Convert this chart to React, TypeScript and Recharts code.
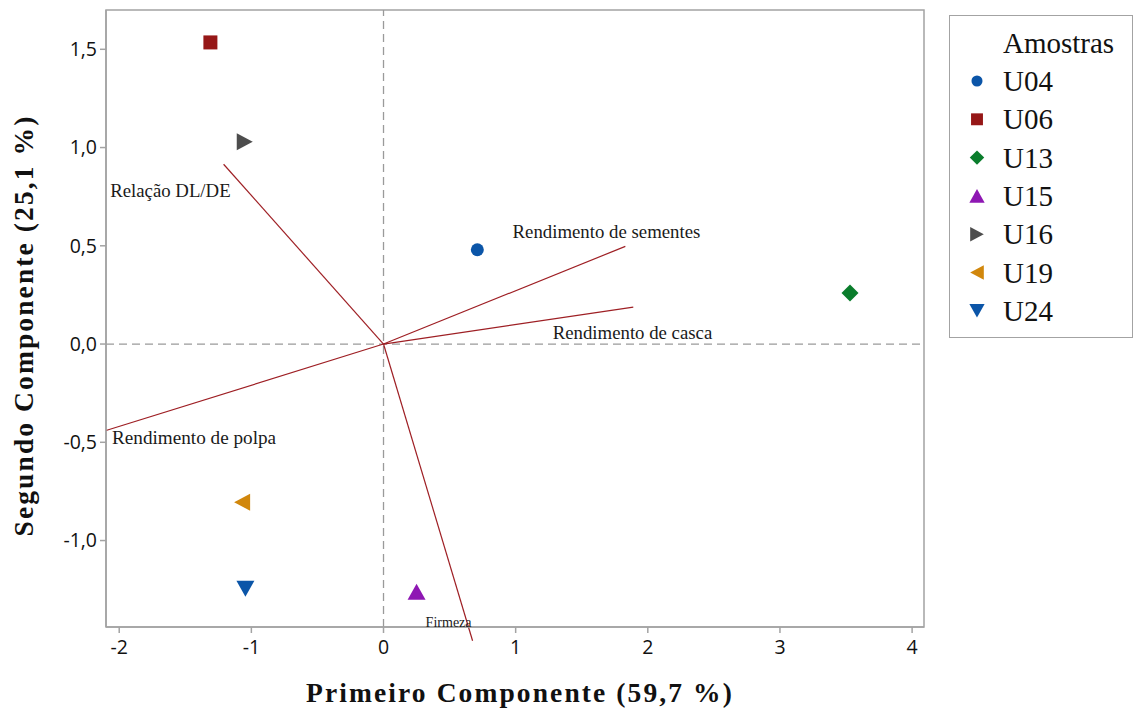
import React from 'react';
import {
  ScatterChart,
  Scatter,
  XAxis,
  YAxis,
  ReferenceLine,
  ReferenceDot,
  ReferenceArea,
  Legend,
  Label,
} from 'recharts';

// Sample scores on the first two principal components
const sampleNames = ['U04', 'U06', 'U13', 'U15', 'U16', 'U19', 'U24'];
const pc1Scores = [0.71, -1.31, 3.53, 0.25, -1.05, -1.07, -1.045];
const pc2Scores = [0.48, 1.535, 0.26, -1.26, 1.03, -0.805, -1.245];

// Variable loadings (vector end points)
const variableNames = [
  'Relação DL/DE',
  'Rendimento de sementes',
  'Rendimento de casca',
  'Rendimento de polpa',
  'Firmeza',
];
const loadingPC1 = [-1.21, 1.83, 1.89, -2.1, 0.674];
const loadingPC2 = [0.915, 0.497, 0.188, -0.44, -1.51];

// Axis ticks
const xTicks = [-2, -1, 0, 1, 2, 3, 4];
const yTicks = [-1, -0.5, 0, 0.5, 1, 1.5];
const X_DOMAIN: [number, number] = [-2.1, 4.09];
const Y_DOMAIN: [number, number] = [-1.44, 1.7];

const sampleColors = ['#0b55a8', '#961717', '#0a7d2c', '#8e17b3', '#4d4d4d', '#d1870c', '#0b55a8'];
const sampleShapes = ['circle', 'square', 'diamond', 'up', 'right', 'left', 'down'];

// Label placement relative to each vector tip (pixels)
const vectorLabelStyle: { anchor: string; dx: number; dy: number; size: number; fit?: number }[] = [
  { anchor: 'end', dx: 7, dy: 26, size: 18.8 },
  { anchor: 'end', dx: 75, dy: -15, size: 18.8 },
  { anchor: 'end', dx: 79, dy: 25, size: 18.8 },
  { anchor: 'start', dx: 6, dy: 7, size: 19.2 },
  { anchor: 'end', dx: -1, dy: -19, size: 15, fit: 46 },
];

const SERIF = '"Liberation Serif", "Times New Roman", serif';
const SANS = '"Open Sans", "Noto Sans", sans-serif';
const AXIS_GREY = '#a3a3a3';
const VECTOR_RED = '#9e1f24';

function Marker({ kind, cx, cy, color }: { kind: string; cx: number; cy: number; color: string }) {
  if (cx == null || cy == null) return null;
  switch (kind) {
    case 'circle':
      return <circle cx={cx} cy={cy} r={6.5} fill={color} />;
    case 'square':
      return <rect x={cx - 7} y={cy - 7} width={14} height={14} fill={color} />;
    case 'diamond':
      return (
        <polygon
          points={`${cx},${cy - 8.5} ${cx + 8.5},${cy} ${cx},${cy + 8.5} ${cx - 8.5},${cy}`}
          fill={color}
        />
      );
    case 'up':
      return (
        <polygon points={`${cx},${cy - 8} ${cx + 9},${cy + 8} ${cx - 9},${cy + 8}`} fill={color} />
      );
    case 'down':
      return (
        <polygon points={`${cx - 9},${cy - 8} ${cx + 9},${cy - 8} ${cx},${cy + 8}`} fill={color} />
      );
    case 'right':
      return (
        <polygon points={`${cx - 8},${cy - 8.5} ${cx + 8},${cy} ${cx - 8},${cy + 8.5}`} fill={color} />
      );
    case 'left':
      return (
        <polygon points={`${cx + 8},${cy - 8.5} ${cx - 8},${cy} ${cx + 8},${cy + 8.5}`} fill={color} />
      );
    default:
      return null;
  }
}

function LegendBox(props: any) {
  const payload = props.payload || [];
  return (
    <svg width={185} height={324} style={{ display: 'block' }}>
      <rect x={0.5} y={0.5} width={183} height={322} fill="#fff" stroke={AXIS_GREY} strokeWidth={1} />
      <text x={54} y={28} dominantBaseline="central" fontFamily={SERIF} fontSize={29} fill="#111">
        Amostras
      </text>
      {payload.map((entry: any, i: number) => {
        const idx = sampleNames.indexOf(entry.value);
        const cy = 66 + i * 38.3;
        return (
          <g key={entry.value}>
            <g transform={`translate(28, ${cy}) scale(0.85) translate(-28, ${-cy})`}>
              <Marker kind={sampleShapes[idx]} cx={28} cy={cy} color={sampleColors[idx]} />
            </g>
            <text x={54} y={cy} dominantBaseline="central" fontFamily={SERIF} fontSize={29} fill="#111">
              {entry.value}
            </text>
          </g>
        );
      })}
    </svg>
  );
}

function XTitle(props: any) {
  const vb = props.viewBox || { x: 106, y: 627, width: 818, height: 82 };
  return (
    <text
      x={vb.x + vb.width / 2 + 5}
      y={vb.y + 75}
      textAnchor="middle"
      fontFamily={SERIF}
      fontWeight="bold"
      fontSize={27.5}
      letterSpacing={2.1}
      fill="#111"
    >
      Primeiro Componente (59,7 %)
    </text>
  );
}

function YTitle(props: any) {
  const vb = props.viewBox || { x: 0, y: 10, width: 106, height: 617 };
  const cx = 33;
  const cy = vb.y + vb.height / 2 + 7;
  return (
    <text
      x={cx}
      y={cy}
      transform={`rotate(-90, ${cx}, ${cy})`}
      textAnchor="middle"
      fontFamily={SERIF}
      fontWeight="bold"
      fontSize={27.5}
      letterSpacing={2.1}
      fill="#111"
    >
      Segundo Componente (25,1 %)
    </text>
  );
}

const formatY = (v: number) => v.toFixed(1).replace('.', ',');

export default function App() {
  const tickStyle = { fill: '#111', fontSize: 19.5, fontFamily: SANS };
  return (
    <div style={{ position: 'absolute', left: 0, top: 0, background: '#fff' }}>
      <ScatterChart width={1134} height={709} margin={{ top: 10, right: 210, bottom: 0, left: 0 }}>
        <XAxis
          type="number"
          dataKey="x"
          domain={X_DOMAIN}
          ticks={xTicks}
          allowDataOverflow
          interval={0}
          height={82}
          tick={tickStyle}
          tickSize={6}
          tickMargin={7}
          axisLine={{ stroke: AXIS_GREY, strokeWidth: 1.5 }}
          tickLine={{ stroke: AXIS_GREY, strokeWidth: 1.5 }}
        >
          <Label content={<XTitle />} />
        </XAxis>
        <YAxis
          type="number"
          dataKey="y"
          domain={Y_DOMAIN}
          ticks={yTicks}
          allowDataOverflow
          interval={0}
          width={106}
          tick={tickStyle}
          tickFormatter={formatY}
          tickSize={6}
          tickMargin={3}
          axisLine={{ stroke: AXIS_GREY, strokeWidth: 1.5 }}
          tickLine={{ stroke: AXIS_GREY, strokeWidth: 1.5 }}
        >
          <Label content={<YTitle />} />
        </YAxis>

        <ReferenceArea
          x1={X_DOMAIN[0]}
          x2={X_DOMAIN[1]}
          y1={Y_DOMAIN[0]}
          y2={Y_DOMAIN[1]}
          fill="none"
          stroke={AXIS_GREY}
          strokeWidth={1.5}
          ifOverflow="visible"
        />

        <ReferenceLine x={0} stroke="#9a9a9a" strokeWidth={1.3} strokeDasharray="8 5" />
        <ReferenceLine y={0} stroke="#9a9a9a" strokeWidth={1.3} strokeDasharray="8 5" />

        {variableNames.map((name, i) => (
          <ReferenceLine
            key={`vec-${name}`}
            segment={[
              { x: 0, y: 0 },
              { x: loadingPC1[i], y: loadingPC2[i] },
            ]}
            stroke={VECTOR_RED}
            strokeWidth={1.2}
            ifOverflow="visible"
          />
        ))}

        {variableNames.map((name, i) => {
          const st = vectorLabelStyle[i];
          return (
            <ReferenceDot
              key={`lbl-${name}`}
              x={loadingPC1[i]}
              y={loadingPC2[i]}
              r={0}
              ifOverflow="visible"
              shape={(p: any) => (
                <text
                  x={p.cx + st.dx}
                  y={p.cy + st.dy}
                  textAnchor={st.anchor as any}
                  dominantBaseline="central"
                  fontFamily={SERIF}
                  fontSize={st.size}
                  textLength={st.fit}
                  lengthAdjust={st.fit ? 'spacingAndGlyphs' : undefined}
                  fill="#1a1a1a"
                >
                  {name}
                </text>
              )}
            />
          );
        })}

        {sampleNames.map((name, i) => (
          <Scatter
            key={name}
            name={name}
            data={[{ x: pc1Scores[i], y: pc2Scores[i] }]}
            fill={sampleColors[i]}
            isAnimationActive={false}
            shape={(p: any) => <Marker kind={sampleShapes[i]} cx={p.cx} cy={p.cy} color={sampleColors[i]} />}
          />
        ))}

        <Legend
          layout="vertical"
          align="center"
          verticalAlign="middle"
          wrapperStyle={{ left: 949, top: 15, width: 185, height: 324 }}
          content={<LegendBox />}
        />
      </ScatterChart>
    </div>
  );
}
